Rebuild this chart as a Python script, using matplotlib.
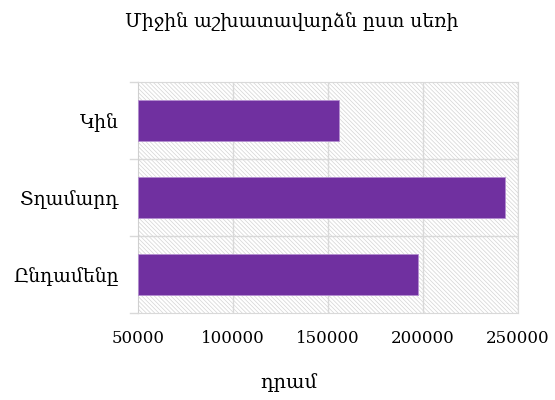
import matplotlib
matplotlib.use('Agg')
import matplotlib.pyplot as plt
from matplotlib.patches import Rectangle

plt.rcParams['font.family'] = ['DejaVu Serif', 'DejaVu Sans']
plt.rcParams['hatch.linewidth'] = 0.5

title = 'Միջին աշխատավարձն ըստ սեռի'
categories = ['Կին', 'Տղամարդ', 'Ընդամենը']
values = [156000, 243300, 197400]
xticks = [50000, 100000, 150000, 200000, 250000]
xlabel = 'դրամ'

fig = plt.figure(figsize=(5.55, 4.0), dpi=100)
ax = fig.add_axes([138/555, 1 - 313/400, 380/555, 231/400])

# hatched background
bg = Rectangle((0, 0), 1, 1, transform=ax.transAxes, facecolor='white',
               edgecolor='#d4d4d4', hatch='\\' * 8, linewidth=0, zorder=0)
ax.add_patch(bg)

ypos = list(range(len(categories)))
ax.barh(ypos, [v - xticks[0] for v in values], left=xticks[0], height=0.52,
        color='#7030A0', edgecolor='#b48fd0', linewidth=0.6, zorder=3)

ax.set_xlim(xticks[0], xticks[-1])
ax.set_ylim(len(categories) - 0.5, -0.5)
ax.set_xticks(xticks)
ax.set_xticklabels([str(t) for t in xticks], fontsize=12)
ax.set_yticks(ypos)
ax.set_yticklabels(categories, fontsize=13.5)
ax.tick_params(axis='y', length=0, pad=14)
ax.tick_params(axis='x', length=0, pad=12)

# gridlines at category boundaries and x ticks
for b in [0.5, 1.5]:
    ax.axhline(b, color='#d9d9d9', linewidth=1, zorder=1)
    ax.plot([-0.022, 0], [1 - (b + 0.5) / 3] * 2, transform=ax.transAxes,
            color='#d9d9d9', linewidth=1, clip_on=False)
ax.plot([-0.022, 0], [1, 1], transform=ax.transAxes, color='#d9d9d9', linewidth=1, clip_on=False)
ax.plot([-0.022, 0], [0, 0], transform=ax.transAxes, color='#d9d9d9', linewidth=1, clip_on=False)
for t in xticks[1:]:
    ax.axvline(t, color='#d9d9d9', linewidth=1, zorder=1)

for s in ['top', 'right', 'bottom']:
    ax.spines[s].set_color('#d9d9d9')
ax.spines['left'].set_color('#d0d0d0')

fig.text(289/555, 1 - 383/400, xlabel, ha='center', va='center', fontsize=14)
fig.text(292/555, 1 - 22/400, title, ha='center', va='center', fontsize=13.5)

fig.savefig('out.png', dpi=100)
